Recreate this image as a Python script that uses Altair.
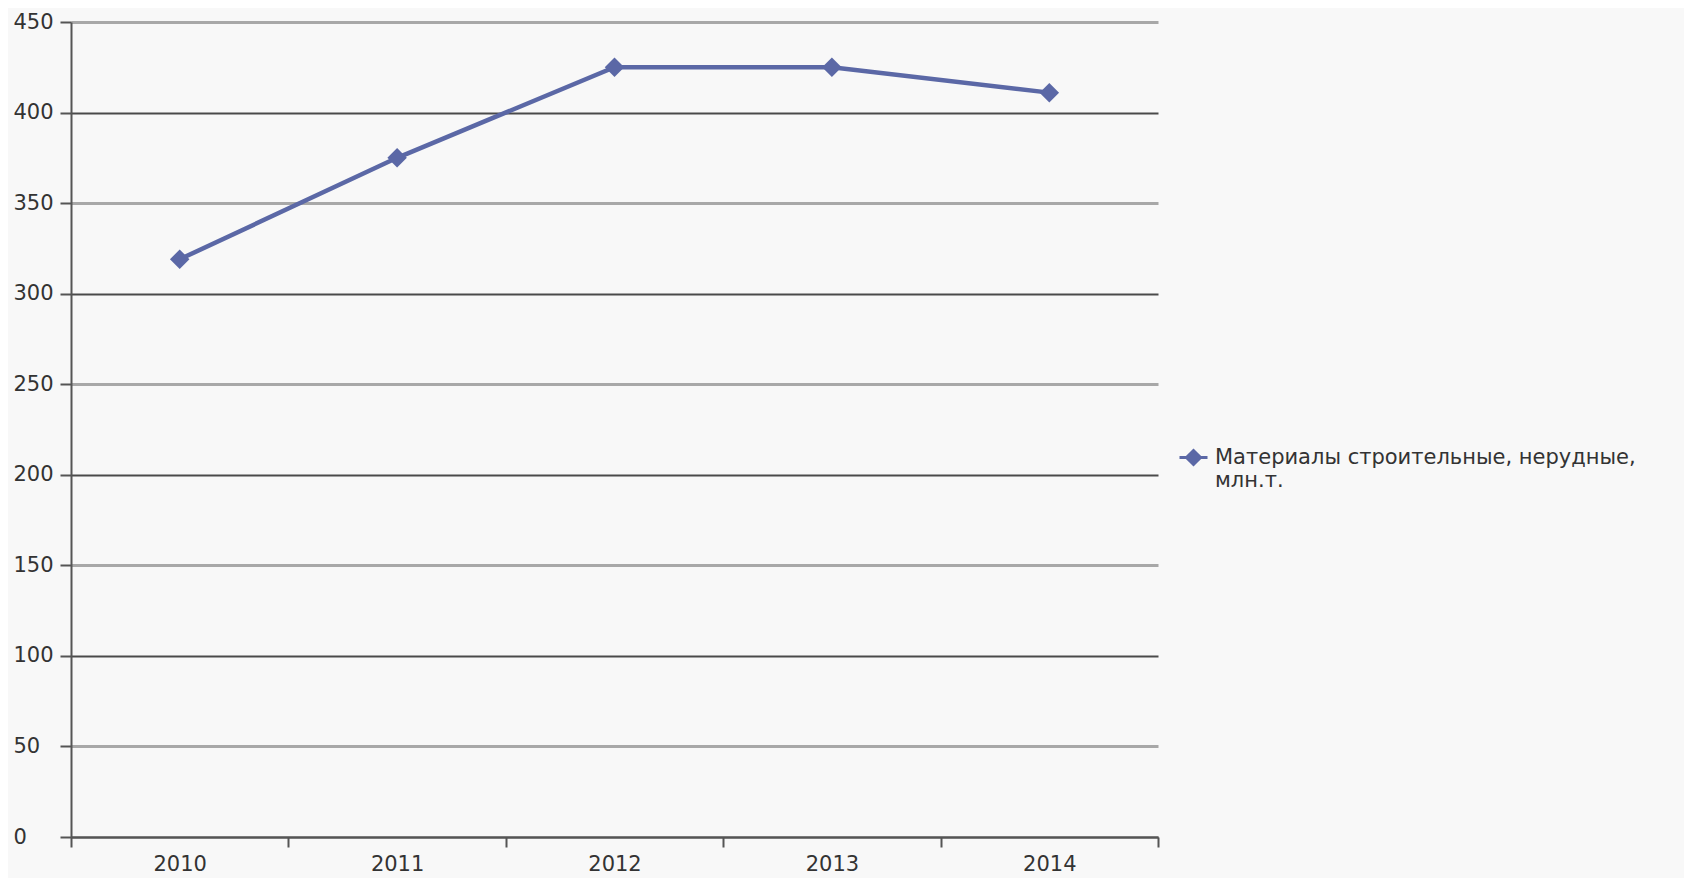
import altair as alt
import pandas as pd

years = [2010, 2011, 2012, 2013, 2014]
values = [319, 375, 425, 425, 411]
series_name = "Материалы строительные, нерудные, млн.т."
y_ticks = [0, 50, 100, 150, 200, 250, 300, 350, 400, 450]
x_ticks = [2009.5, 2010.5, 2011.5, 2012.5, 2013.5, 2014.5]

df = pd.DataFrame({"year": years, "value": values, "series": [series_name] * len(years)})

LINE_COLOR = "#5b68a6"
FONT = "DejaVu Sans"
W, H = 1087, 815

chart = (
    alt.Chart(df)
    .mark_line(
        strokeWidth=4.5,
        point=alt.OverlayMarkDef(shape="diamond", size=380, filled=True, opacity=1),
    )
    .encode(
        x=alt.X(
            "year:Q",
            scale=alt.Scale(domain=[2009.5, 2014.5], nice=False, zero=False),
            axis=alt.Axis(
                title=None,
                values=x_ticks,
                labelExpr="datum.value < 2014 ? format(datum.value + 0.5, 'd') : ''",
                labelOffset=W / 10,
                labelFlush=False,
                labelOverlap=False,
                labelBound=False,
                grid=False,
                tickSize=10,
                tickColor="#555",
                tickWidth=2,
                domainColor="#555",
                domainWidth=2,
                labelFont=FONT,
                labelFontSize=21,
                labelColor="#333",
                labelPadding=6,
            ),
        ),
        y=alt.Y(
            "value:Q",
            scale=alt.Scale(domain=[0, 450], nice=False),
            axis=alt.Axis(
                title=None,
                values=y_ticks,
                grid=True,
                gridColor=alt.condition("datum.value % 100 === 0", alt.value("#4a4a4a"), alt.value("#a8a8a8")),
                gridWidth=alt.condition("datum.value % 100 === 0", alt.value(2), alt.value(3)),
                tickSize=11,
                tickColor="#555",
                tickWidth=2,
                domainColor="#555",
                domainWidth=2,
                labelAlign="left",
                labelBaseline="middle",
                labelPadding=47,
                labelFont=FONT,
                labelFontSize=21,
                labelColor="#333",
            ),
        ),
        color=alt.Color(
            "series:N",
            scale=alt.Scale(range=[LINE_COLOR]),
            legend=alt.Legend(
                title=None,
                orient="none",
                legendX=1107,
                legendY=420,
                symbolType="M-1,0H1M-0.5,0L0,-0.5L0.5,0L0,0.5Z",
                symbolSize=784,
                symbolStrokeWidth=3,
                symbolFillColor=LINE_COLOR,
                symbolStrokeColor=LINE_COLOR,
                labelExpr="[substring(datum.label, 0, indexof(datum.label, 'млн') - 1), substring(datum.label, indexof(datum.label, 'млн'))]",
                labelFont=FONT,
                labelFontSize=21,
                labelColor="#333",
                labelOffset=6,
                labelLimit=0,
            ),
        ),
    )
    .properties(
        width=W,
        height=H,
        background="#f8f8f8",
        padding={"left": 63, "top": 14, "right": 526, "bottom": 41},
        autosize=alt.AutoSizeParams(type="none"),
    )
    .configure_view(stroke=None)
)

chart.save("out.html", embed_options={"renderer": "svg", "actions": False})
